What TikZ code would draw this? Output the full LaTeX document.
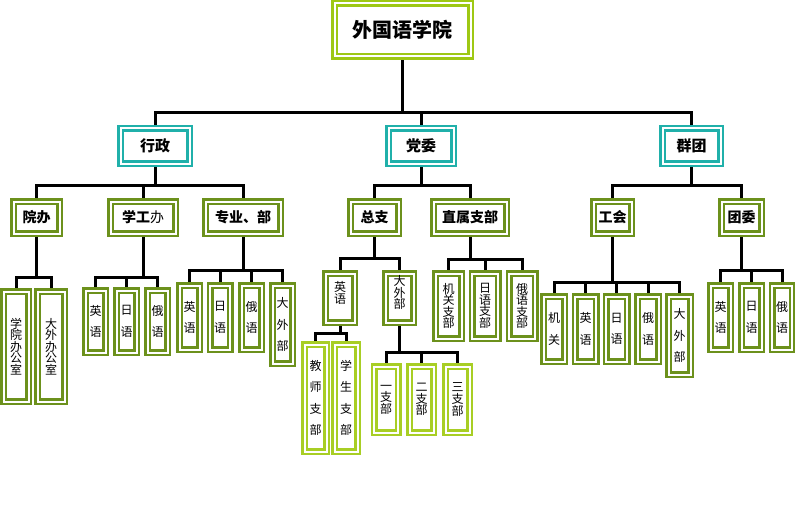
\documentclass[tikz,border=0pt]{standalone}
\usepackage{fontspec}
\setmainfont{Noto Sans CJK SC}
\usetikzlibrary{backgrounds}

\definecolor{collegegreen}{RGB}{158,200,20}
\definecolor{unitteal}{RGB}{32,176,170}
\definecolor{deptolive}{RGB}{108,145,28}
\definecolor{branchgreen}{RGB}{168,206,36}

\tikzset{
	box/.style={draw=#1, double=white, line width=2.5pt, double distance=2pt,
		fill=white, inner sep=0pt, align=center},
	topbox/.style={box=collegegreen, font=\fontsize{20}{20}\selectfont\bfseries},
	unitbox/.style={box=unitteal, minimum height=35pt,
		font=\fontsize{15}{15}\selectfont\bfseries},
	deptbox/.style={box=deptolive, minimum height=32pt,
		font=\fontsize{14}{14}\selectfont\bfseries},
	leaf/.style={box=deptolive, font=\fontsize{12}{11.6}\selectfont},
	wideleaf/.style={box=deptolive, font=\fontsize{12}{21.5}\selectfont},
	link/.style={line width=3pt}
}

\begin{document}
\begin{tikzpicture}[x=1pt, y=-1pt]
	\useasboundingbox (0,0) rectangle (795,524);

	% college and its three units
	\node[topbox, minimum width=136pt, minimum height=53pt] (college) at (402.5,30) {外国语学院};

	\node[unitbox, minimum width=69pt] (admin)  at (155,146)   {行政};
	\node[unitbox, minimum width=65pt] (party)  at (421,146)   {党委};
	\node[unitbox, minimum width=58pt] (groups) at (691.5,146) {群团};

	% offices
	\node[deptbox, minimum width=46pt] (deanoffice)    at (36.5,217.5)  {院办};
	\node[deptbox, minimum width=65pt] (studentoffice) at (143,217.5)   {学工{\mdseries 办}};
	\node[deptbox, minimum width=75pt] (majors)        at (243,217.5)   {专业、部};
	\node[deptbox, minimum width=48pt] (general)       at (374.5,217.5) {总支};
	\node[deptbox, minimum width=73pt] (direct)        at (470,217.5)   {直属支部};
	\node[deptbox, minimum width=38pt] (union)         at (612.5,217.5) {工会};
	\node[deptbox, minimum width=40pt] (league)        at (741.5,217.5) {团委};

	% under 院办
	\node[leaf, minimum width=25pt, minimum height=110pt] (deanone) at (16,346.5)
		{学\\院\\办\\公\\室};
	\node[leaf, minimum width=27pt, minimum height=110pt] (deantwo) at (51,346.5)
		{大\\外\\办\\公\\室};

	% under 学工办
	\node[wideleaf, minimum width=20pt, minimum height=62pt] (stueng) at (95.5,321.5)  {英\\语};
	\node[wideleaf, minimum width=20pt, minimum height=62pt] (stujap) at (126.5,321.5) {日\\语};
	\node[wideleaf, minimum width=20pt, minimum height=62pt] (sturus) at (157.5,321.5) {俄\\语};

	% under 专业、部
	\node[wideleaf, minimum width=20pt, minimum height=64pt] (majeng) at (189.5,317.5) {英\\语};
	\node[wideleaf, minimum width=20pt, minimum height=64pt] (majjap) at (220,317.5)   {日\\语};
	\node[wideleaf, minimum width=20pt, minimum height=64pt] (majrus) at (251.5,317.5) {俄\\语};
	\node[wideleaf, minimum width=20pt, minimum height=78pt] (majcol) at (282.5,324.5) {大\\外\\部};

	% under 总支
	\node[leaf, minimum width=29pt, minimum height=49pt] (geneng) at (340,298)   {英\\语\\\mbox{}};
	\node[leaf, minimum width=28pt, minimum height=49pt] (gencol) at (399.5,298) {大\\外\\部\\\mbox{}};

	\node[wideleaf, box=branchgreen, minimum width=22pt, minimum height=107pt] (teachers) at (315.5,398)
		{教\\师\\支\\部};
	\node[wideleaf, box=branchgreen, minimum width=23pt, minimum height=107pt] (students) at (346,398)
		{学\\生\\支\\部};

	\node[leaf, box=branchgreen, minimum width=24pt, minimum height=66pt] (branchone)   at (386,399.5)   {一\\支\\部};
	\node[leaf, box=branchgreen, minimum width=24pt, minimum height=66pt] (branchtwo)   at (421.5,399.5) {二\\支\\部};
	\node[leaf, box=branchgreen, minimum width=24pt, minimum height=66pt] (branchthree) at (457.5,399.5) {三\\支\\部};

	% under 直属支部
	\node[leaf, minimum width=26pt, minimum height=65pt] (dirorg) at (448.5,306) {机\\关\\支\\部};
	\node[leaf, minimum width=26pt, minimum height=65pt] (dirjap) at (485,306)   {日\\语\\支\\部};
	\node[leaf, minimum width=26pt, minimum height=65pt] (dirrus) at (522,306)   {俄\\语\\支\\部};

	% under 工会
	\node[wideleaf, minimum width=21pt, minimum height=65pt] (uniorg) at (554,329)   {机\\关};
	\node[wideleaf, minimum width=21pt, minimum height=65pt] (unieng) at (585.5,329) {英\\语};
	\node[wideleaf, minimum width=21pt, minimum height=65pt] (unijap) at (616.5,329) {日\\语};
	\node[wideleaf, minimum width=21pt, minimum height=65pt] (unirus) at (648,329)   {俄\\语};
	\node[wideleaf, minimum width=22pt, minimum height=78pt] (unicol) at (679.5,335.5) {大\\外\\部};

	% under 团委
	\node[wideleaf, minimum width=20pt, minimum height=64pt] (leaeng) at (720.5,317.5) {英\\语};
	\node[wideleaf, minimum width=20pt, minimum height=64pt] (leajap) at (751.5,317.5) {日\\语};
	\node[wideleaf, minimum width=20pt, minimum height=64pt] (learus) at (782,317.5)   {俄\\语};

	% connectors
	\begin{scope}[on background layer]
		\foreach \c in {admin, party, groups}
			\draw[link] (college) -- ++(0,83) -| (\c);
		\foreach \c in {deanoffice, studentoffice, majors}
			\draw[link] (admin) -- ++(0,39) -| (\c);
		\foreach \c in {general, direct}
			\draw[link] (party) -- ++(0,39) -| (\c);
		\foreach \c in {union, league}
			\draw[link] (groups) -- ++(0,39) -| (\c);

		\foreach \c in {deanone, deantwo}
			\draw[link] (deanoffice) -- ++(0,59.5) -| (\c);
		\foreach \c in {stueng, stujap, sturus}
			\draw[link] (studentoffice) -- ++(0,59.5) -| (\c);
		\foreach \c in {majeng, majjap, majrus, majcol}
			\draw[link] (majors) -- ++(0,52.5) -| (\c);
		\foreach \c in {geneng, gencol}
			\draw[link] (general) -- ++(0,40.5) -| (\c);
		\foreach \c in {teachers, students}
			\draw[link] (geneng) -- ++(0,35) -| (\c);
		\foreach \c in {branchone, branchtwo, branchthree}
			\draw[link] (gencol) -- ++(0,54) -| (\c);
		\foreach \c in {dirorg, dirjap, dirrus}
			\draw[link] (direct) -- ++(0,41.5) -| (\c);
		\foreach \c in {uniorg, unieng, unijap, unirus, unicol}
			\draw[link] (union) -- ++(0,64.5) -| (\c);
		\foreach \c in {leaeng, leajap, learus}
			\draw[link] (league) -- ++(0,52.5) -| (\c);
	\end{scope}
\end{tikzpicture}
\end{document}
